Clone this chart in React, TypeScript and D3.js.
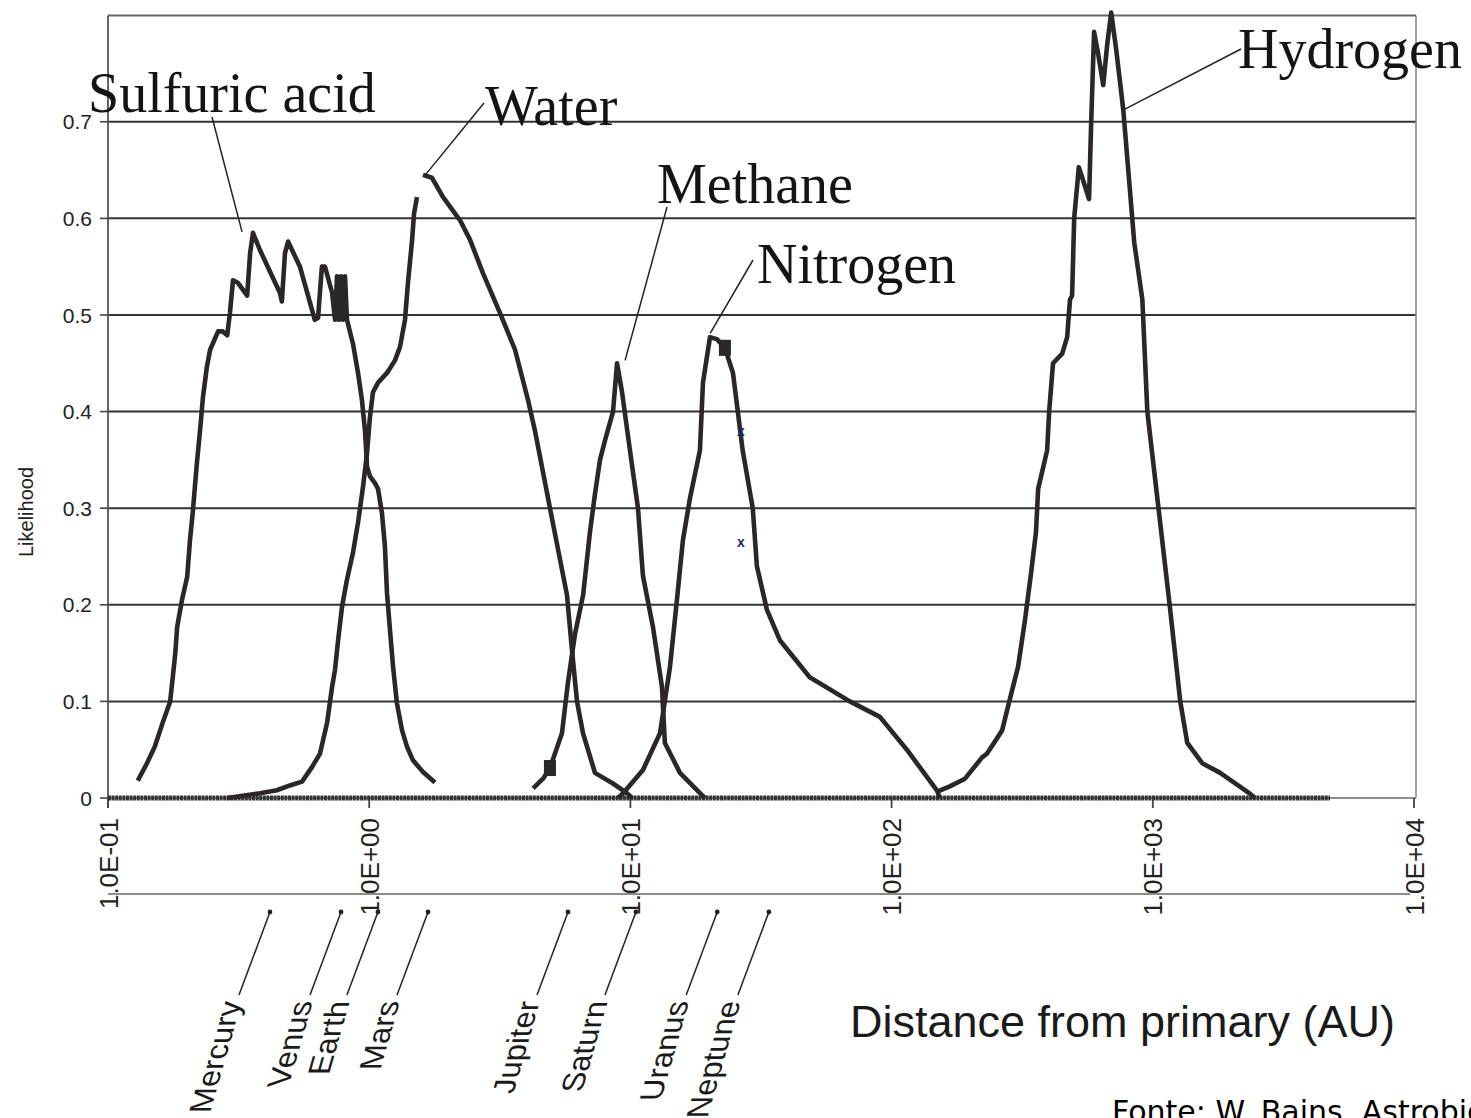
import React from "react";
import * as d3 from "d3";

// [distance in AU, likelihood]
const sulfuricAcid: [number, number][] = [
  [0.13, 0.018], [0.141, 0.036], [0.151, 0.053], [0.162, 0.078], [0.173, 0.1],
  [0.177, 0.125], [0.181, 0.15], [0.184, 0.177], [0.192, 0.205], [0.201, 0.229],
  [0.206, 0.267], [0.211, 0.295], [0.219, 0.347], [0.225, 0.38], [0.231, 0.415],
  [0.239, 0.446], [0.246, 0.464], [0.264, 0.483], [0.275, 0.483], [0.286, 0.479],
  [0.293, 0.502], [0.301, 0.536], [0.315, 0.533], [0.341, 0.52], [0.35, 0.564],
  [0.359, 0.585], [0.382, 0.567], [0.455, 0.523], [0.463, 0.514], [0.476, 0.564],
  [0.489, 0.576], [0.543, 0.55], [0.619, 0.495], [0.637, 0.497], [0.659, 0.55],
  [0.677, 0.55], [0.721, 0.523], [0.74, 0.495], [0.753, 0.54], [0.766, 0.495],
  [0.78, 0.54], [0.794, 0.495], [0.808, 0.54], [0.822, 0.495], [0.867, 0.47],
  [0.906, 0.44], [0.938, 0.412], [0.964, 0.38], [0.981, 0.343], [1.007, 0.333],
  [1.052, 0.326], [1.081, 0.32], [1.119, 0.295], [1.149, 0.26], [1.17, 0.212],
  [1.201, 0.174], [1.234, 0.136], [1.277, 0.098], [1.336, 0.07], [1.396, 0.053],
  [1.471, 0.039], [1.607, 0.027], [1.786, 0.016],
];

const water: [number, number | null][] = [
  [0.286, 0], [0.382, 0.005], [0.443, 0.008], [0.497, 0.013], [0.553, 0.017],
  [0.604, 0.032], [0.648, 0.046], [0.69, 0.078], [0.721, 0.115], [0.74, 0.133],
  [0.76, 0.163], [0.787, 0.198], [0.822, 0.226], [0.867, 0.254], [0.906, 0.285],
  [0.947, 0.322], [0.981, 0.357], [1.007, 0.395], [1.034, 0.42], [1.081, 0.43],
  [1.17, 0.44], [1.255, 0.453], [1.312, 0.467], [1.371, 0.495], [1.407, 0.533],
  [1.459, 0.577], [1.485, 0.605], [1.524, 0.622], [1.56, null], [1.607, 0.645],
  [1.739, 0.642], [1.918, 0.622], [2.227, 0.598], [2.431, 0.578], [2.728, 0.543],
  [3.169, 0.502], [3.617, 0.464], [4.055, 0.412], [4.313, 0.38], [4.921, 0.3],
  [5.718, 0.21], [5.976, 0.153], [6.246, 0.1], [6.585, 0.067], [7.318, 0.026],
  [8.575, 0.015], [9.7, 0.005], [10.15, 0],
];

const methane: [number, number][] = [
  [4.24, 0.01], [4.63, 0.02], [4.92, 0.031], [5.47, 0.067], [5.77, 0.12],
  [6.14, 0.17], [6.59, 0.21], [7.0, 0.275], [7.32, 0.315], [7.65, 0.35],
  [7.99, 0.37], [8.58, 0.4], [8.89, 0.45], [9.29, 0.42], [9.96, 0.36],
  [10.69, 0.3], [11.17, 0.23], [12.2, 0.177], [13.21, 0.115], [13.55, 0.057],
  [15.48, 0.026], [18.46, 0.005], [19.3, 0],
];

const nitrogen: [number, number][] = [
  [8.97, 0], [9.38, 0.005], [11.17, 0.029], [12.98, 0.067], [14.18, 0.136],
  [15.07, 0.205], [15.89, 0.267], [16.9, 0.31], [18.46, 0.36], [18.96, 0.43],
  [20.17, 0.477], [21.43, 0.475], [23.0, 0.466], [24.7, 0.44], [26.9, 0.36],
  [29.4, 0.3], [30.5, 0.24], [33.3, 0.195], [37.4, 0.163], [48.6, 0.125],
  [69.2, 0.1], [90.2, 0.084], [114.4, 0.05], [149, 0.008], [153, 0],
];

const hydrogen: [number, number][] = [
  [148, 0.006], [167, 0.012], [191, 0.02], [222, 0.042], [232, 0.046],
  [265, 0.07], [281, 0.098], [305, 0.136], [324, 0.184], [342, 0.233],
  [357, 0.275], [364, 0.32], [394, 0.36], [401, 0.4], [415, 0.45],
  [450, 0.46], [470, 0.477], [482, 0.516], [491, 0.52], [500, 0.6],
  [521, 0.653], [540, 0.64], [570, 0.62], [581, 0.7], [596, 0.793],
  [618, 0.77], [646, 0.738], [669, 0.78], [693, 0.813], [724, 0.775],
  [750, 0.74], [771, 0.712], [813, 0.637], [849, 0.575], [912, 0.516],
  [953, 0.4], [1031, 0.32], [1160, 0.2], [1274, 0.1], [1355, 0.057],
  [1546, 0.036], [1811, 0.026], [2339, 0.005], [2466, 0],
];

// zero values of the series, drawn as one thick marker band
const zeroBaseline: [number, number][] = [[0.1, 0], [4770, 0]];
const squareMarks: [number, number][] = [[4.92, 0.031], [23.0, 0.466]];
const crossMarks: [number, number][] = [[26.5, 0.379], [26.5, 0.264]];

const yTicks = [0, 0.1, 0.2, 0.3, 0.4, 0.5, 0.6, 0.7];
const yTop = 0.81;
const xTicks = [0.1, 1, 10, 100, 1000, 10000];
const xTickLabels = ["1.0E-01", "1.0E+00", "1.0E+01", "1.0E+02", "1.0E+03", "1.0E+04"];

const planetNames = ["Mercury", "Venus", "Earth", "Mars", "Jupiter", "Saturn", "Uranus", "Neptune"];
const planetDistances = [0.417, 0.78, 1.08, 1.68, 5.77, 10.5, 21.5, 33.9];

// label, point on curve [AU, likelihood], label position, leader start
const speciesLabels = [
  { name: "Sulfuric acid", at: [0.326, 0.586], lx: 88, ly: 112, ex: 212, ey: 117 },
  { name: "Water", at: [1.641, 0.645], lx: 485, ly: 125, ex: 484, ey: 103 },
  { name: "Methane", at: [9.54, 0.453], lx: 657, ly: 203, ex: 667, ey: 207 },
  { name: "Nitrogen", at: [20.2, 0.481], lx: 757, ly: 283, ex: 753, ey: 260 },
  { name: "Hydrogen", at: [769, 0.712], lx: 1238, ly: 68, ex: 1241, ey: 49 },
];

const series = [sulfuricAcid, water, methane, nitrogen, hydrogen];

const W = 1471;
const H = 1118;
const left = 108;
const right = 1414;
const bottom = 798;
const top = 15.5;

const ink = "#2b2627";
const sans = "Liberation Sans, Arial, sans-serif";
const serif = "Liberation Serif, Times New Roman, serif";

const App = () => {
  const x = d3.scaleLog().domain([0.1, 10000]).range([left, right]);
  const y = d3.scaleLinear().domain([0, yTop]).range([bottom, top]);

  const line = d3
    .line<[number, number | null]>()
    .defined((d) => d[1] !== null)
    .x((d) => x(d[0]))
    .y((d) => y(d[1] as number));

  const planetAxisY = 894;
  const dotY = 912;

  return (
    <div style={{ position: "absolute", left: 0, top: 0 }}>
      <svg width={W} height={H} style={{ display: "block", background: "#fff" }}>
        {/* gridlines */}
        {yTicks.slice(1).map((t) => (
          <line key={t} x1={left} x2={right + 2} y1={y(t)} y2={y(t)} stroke="#333" strokeWidth={2} />
        ))}
        <line x1={left} x2={right + 2} y1={y(yTop)} y2={y(yTop)} stroke="#666" strokeWidth={2} />
        <line x1={right + 2} x2={right + 2} y1={y(yTop)} y2={bottom} stroke="#8a8a8a" strokeWidth={1.6} />

        {/* y axis */}
        <line x1={left} x2={left} y1={y(yTop)} y2={bottom + 10} stroke="#555" strokeWidth={1.8} />
        {yTicks.map((t) => (
          <g key={t}>
            <line x1={left - 8} x2={left} y1={y(t)} y2={y(t)} stroke="#444" strokeWidth={1.6} />
            <text x={92} y={y(t)} dy="0.36em" textAnchor="end" fontFamily={sans} fontSize={21} fill="#222">
              {t === 0 ? "0" : String(t)}
            </text>
          </g>
        ))}
        <text
          transform={`translate(33,512) rotate(-90)`}
          textAnchor="middle"
          fontFamily={sans}
          fontSize={20}
          fill="#222"
        >
          Likelihood
        </text>

        {/* x axis */}
        <line x1={left} x2={right + 2} y1={bottom} y2={bottom} stroke="#666" strokeWidth={1.6} />
        {xTicks.map((t, i) => (
          <g key={t}>
            <line x1={x(t)} x2={x(t)} y1={bottom} y2={bottom + 10} stroke="#444" strokeWidth={1.8} />
            <text
              transform={`translate(${x(t) + 9.5},818) rotate(-90)`}
              textAnchor="end"
              fontFamily={sans}
              fontSize={26}
              fill="#222"
            >
              {xTickLabels[i]}
            </text>
          </g>
        ))}

        {/* zero band */}
        <path d={line(zeroBaseline) || ""} fill="none" stroke="#333" strokeWidth={5} strokeDasharray="3 0.6" />

        {/* curves */}
        {series.map((s, i) => (
          <path
            key={i}
            d={line(s as [number, number | null][]) || ""}
            fill="none"
            stroke={ink}
            strokeWidth={4.6}
            strokeLinejoin="round"
            strokeLinecap="butt"
          />
        ))}
        {squareMarks.map((d, i) => (
          <rect key={i} x={x(d[0]) - 6} y={y(d[1]) - 8} width={12} height={16} fill={ink} />
        ))}
        {crossMarks.map((d, i) => (
          <text key={i} x={x(d[0])} y={y(d[1])} dy="0.3em" textAnchor="middle" fontFamily={sans} fontSize={14} fontWeight="bold" fill="#1c2b5a">
            x
          </text>
        ))}

        {/* species labels */}
        {speciesLabels.map((s) => (
          <g key={s.name}>
            <line x1={s.ex} y1={s.ey} x2={x(s.at[0])} y2={y(s.at[1])} stroke="#222" strokeWidth={1.5} />
            <text x={s.lx} y={s.ly} fontFamily={serif} fontSize={56} fill="#141414">
              {s.name}
            </text>
          </g>
        ))}

        {/* planets */}
        <line x1={left} x2={right - 4} y1={planetAxisY} y2={planetAxisY} stroke="#8c8c8c" strokeWidth={2} />
        {planetNames.map((p, i) => {
          const px = x(planetDistances[i]);
          const ex = px - 31;
          const ey = dotY + 83;
          return (
            <g key={p}>
              <circle cx={px} cy={dotY} r={2.4} fill="#222" />
              <line x1={px} y1={dotY} x2={ex} y2={ey} stroke="#222" strokeWidth={1.5} />
              <text
                transform={`translate(${ex + 3},${ey + 6}) skewX(-16) rotate(-90)`}
                textAnchor="end"
                fontFamily={sans}
                fontSize={31}
                fill="#1a1a1a"
              >
                {p}
              </text>
            </g>
          );
        })}

        <text x={850} y={1037} fontFamily={sans} fontSize={45} fill="#1a1a1a">
          Distance from primary (AU)
        </text>
        <text x={1112} y={1122} fontFamily="DejaVu Sans, sans-serif" fontSize={30} fill="#000">
          Fonte: W. Bains, Astrobiology 4 (2004)
        </text>
      </svg>
    </div>
  );
};

export default App;
